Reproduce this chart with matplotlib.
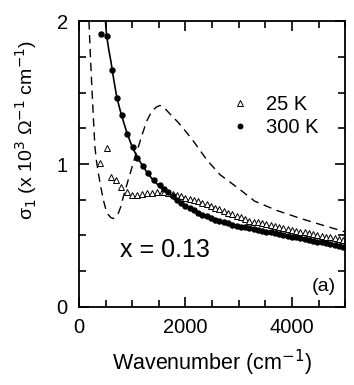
import matplotlib
matplotlib.use('Agg')
import matplotlib.pyplot as plt
from matplotlib.ticker import MultipleLocator

plt.rcParams['font.family'] = ['Liberation Sans', 'DejaVu Sans']

# 300 K data (dots)
wn_300 = [408, 520, 627, 708, 808, 908, 1009, 1096, 1209, 1303, 1415, 1523,
          1600, 1680, 1760, 1840, 1920, 2000, 2080, 2160, 2240, 2320, 2400,
          2480, 2560, 2640, 2720, 2800, 2880, 2960, 3040, 3120, 3200, 3280,
          3360, 3440, 3520, 3600, 3680, 3760, 3840, 3920, 4000, 4080, 4160,
          4240, 4320, 4400, 4480, 4560, 4640, 4720, 4800, 4880, 4960]
sig_300 = [1.91, 1.895, 1.66, 1.46, 1.34, 1.21, 1.12, 1.04, 0.986, 0.935, 0.888, 0.855,
           0.828, 0.802, 0.776, 0.750, 0.728, 0.708, 0.690, 0.675, 0.660, 0.646, 0.635,
           0.622, 0.611, 0.602, 0.593, 0.584, 0.576, 0.568, 0.562, 0.556, 0.551, 0.545,
           0.539, 0.533, 0.527, 0.521, 0.515, 0.509, 0.503, 0.497, 0.491, 0.486, 0.480,
           0.474, 0.468, 0.462, 0.456, 0.451, 0.445, 0.439, 0.433, 0.427, 0.422]

# 25 K data (triangles)
wn_25 = [395, 520, 601, 695, 789, 896, 990, 1083, 1177, 1271, 1365, 1459, 1554,
         1600, 1680, 1760, 1840, 1920, 2000, 2080, 2160, 2240, 2320, 2400,
         2480, 2560, 2640, 2720, 2800, 2880, 2960, 3040, 3120, 3200, 3280,
         3360, 3440, 3520, 3600, 3680, 3760, 3840, 3920, 4000, 4080, 4160,
         4240, 4320, 4400, 4480, 4560, 4640, 4720, 4800, 4880, 4960]
sig_25 = [1.01, 1.11, 0.91, 0.888, 0.84, 0.806, 0.783, 0.783, 0.79, 0.795, 0.80, 0.806, 0.806,
          0.806, 0.800, 0.792, 0.783, 0.774, 0.765, 0.757, 0.748, 0.739, 0.729, 0.718,
          0.706, 0.694, 0.683, 0.671, 0.659, 0.647, 0.636, 0.626, 0.616, 0.604, 0.597,
          0.591, 0.585, 0.578, 0.572, 0.566, 0.558, 0.551, 0.545, 0.539, 0.533, 0.527,
          0.521, 0.515, 0.509, 0.503, 0.497, 0.491, 0.486, 0.480, 0.474, 0.469]

# fit curves
wn_fit300 = [500, 520, 560, 600, 650, 700, 750, 800, 900, 1000, 1100, 1200, 1300,
             1400, 1500, 1600, 1700, 1800, 1900, 2000, 2200, 2400, 2600, 2800,
             3000, 3200, 3400, 3600, 3800, 4000, 4200, 4400, 4600, 4800, 5000]
sig_fit300 = [1.99, 1.90, 1.80, 1.72, 1.60, 1.49, 1.41, 1.34, 1.22, 1.12, 1.045, 0.985, 0.93,
              0.885, 0.848, 0.812, 0.782, 0.752, 0.726, 0.703, 0.665, 0.632, 0.603, 0.579,
              0.560, 0.544, 0.529, 0.514, 0.499, 0.484, 0.469, 0.455, 0.442, 0.429, 0.416]

wn_fit25 = [188, 210, 238, 270, 300, 330, 363, 410, 457, 500, 551, 600, 645, 690,
            739, 785, 833, 880, 927, 975, 1021, 1070, 1115, 1200, 1272, 1340, 1397,
            1460, 1523, 1600, 1711, 1867, 2024, 2180, 2399, 2650, 2994, 3300, 3716,
            4154, 4592, 5000]
sig_fit25 = [2.0, 1.8, 1.575, 1.33, 1.12, 1.02, 0.94, 0.84, 0.75, 0.69, 0.645, 0.625, 0.618, 0.63,
             0.655, 0.70, 0.77, 0.83, 0.89, 0.95, 1.01, 1.07, 1.12, 1.22, 1.30, 1.35, 1.38,
             1.40, 1.41, 1.395, 1.35, 1.29, 1.22, 1.145, 1.03, 0.925, 0.83, 0.74, 0.675,
             0.62, 0.57, 0.525]

fig = plt.figure(figsize=(3.54, 3.85), dpi=100)
ax = fig.add_axes([0.223, 0.203, 0.752, 0.742])

ax.plot(wn_fit25, sig_fit25, color='black', lw=1.0, dashes=(6, 4))
ax.plot(wn_fit300, sig_fit300, color='black', lw=1.2)
ax.plot(wn_25, sig_25, ls='none', marker='^', ms=4.4, mfc='white', mec='black', mew=0.7,
        label='25 K')
ax.plot(wn_300, sig_300, ls='none', marker='o', ms=3.6, mfc='black', mec='black',
        label='300 K')

ax.set_xlim(0, 5000)
ax.set_ylim(0, 2)
ax.xaxis.set_major_locator(MultipleLocator(2000))
ax.xaxis.set_minor_locator(MultipleLocator(500))
ax.yaxis.set_major_locator(MultipleLocator(1))
ax.yaxis.set_minor_locator(MultipleLocator(0.25))
ax.tick_params(which='both', direction='in', top=True, right=True, width=1.2)
ax.tick_params(which='major', length=7, labelsize=14.5, pad=8)
ax.tick_params(which='minor', length=5)
for s in ax.spines.values():
    s.set_linewidth(1.3)

ax.set_xlabel('Wavenumber (cm$^{-1}$)', fontsize=15.5, labelpad=8)
ax.set_ylabel('σ$_1$ (x 10$^3$ Ω$^{-1}$ cm$^{-1}$)', fontsize=14)
ax.yaxis.set_label_coords(-0.15, 0.62)

ax.text(770, 0.40, 'x = 0.13', fontsize=18, ha='left', va='center')
ax.text(4830, 0.14, '(a)', fontsize=14, ha='right', va='center')

ax.legend(loc='upper left', bbox_to_anchor=(0.50, 0.805), frameon=False, fontsize=14.5,
          handlelength=1.0, handletextpad=0.8, labelspacing=0.2, markerscale=0.9)

fig.savefig('out.png', dpi=100)
